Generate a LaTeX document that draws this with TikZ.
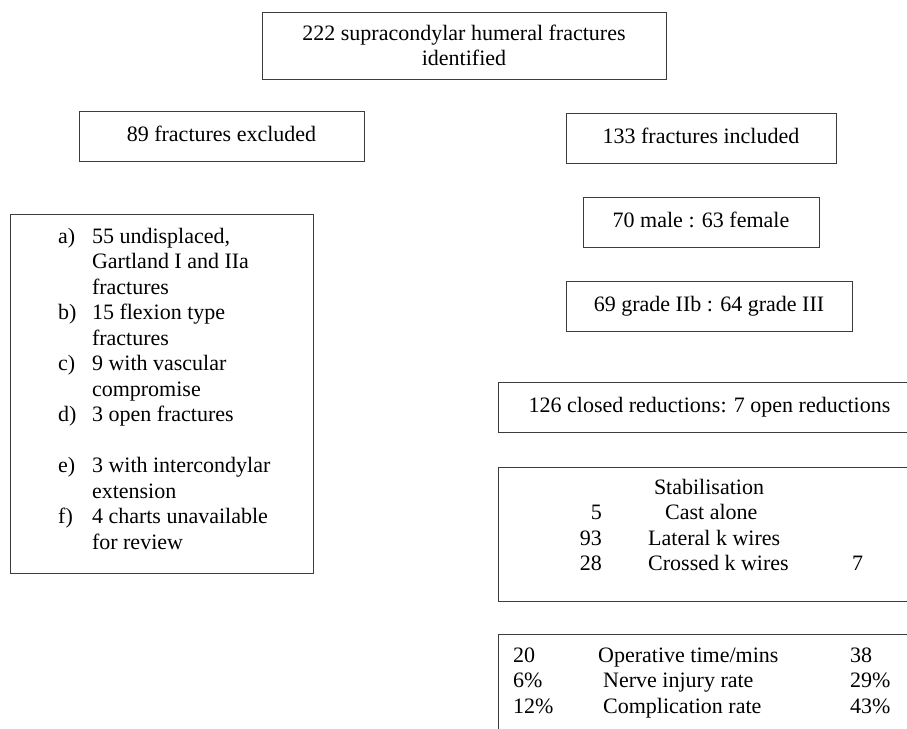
\documentclass[tikz,border=0pt]{standalone}
\usepackage{fontspec}
\setmainfont{Liberation Serif}
\usepackage{xcolor}
\usepackage{tikz}
\definecolor{boxline}{RGB}{60, 60, 60}
\usetikzlibrary{positioning}

\tikzset{
    box/.style={draw=boxline, line width=1pt, inner sep=0pt},
    boxtext/.style={box, align=center, text height=15pt, text depth=5pt},
    celltext/.style={inner sep=0pt},
}

\begin{document}
\begin{tikzpicture}[x=1pt, y=-1pt, every node/.style={font=\fontsize{22}{25.5}\selectfont}]
        \useasboundingbox (0,0) rectangle (907,728);
        \clip (0,0) rectangle (907,728);

        % flow of fractures
        \node[box, align=center, minimum width=404pt, minimum height=67pt] (identified) at (464,45.5) {
            222 supracondylar humeral fractures\\identified
        };
        \node[boxtext, minimum width=285pt, minimum height=50pt] (excluded) at (221.5,136) {89 fractures excluded};
        \node[boxtext, minimum width=270pt, minimum height=50pt] (included) at (701,138) {133 fractures included};
        \node[boxtext, minimum width=236pt, minimum height=50pt] (sex) at (701,222) {70 male : 63 female};
        \node[boxtext, minimum width=286pt, minimum height=50pt] (grade) at (709,306) {69 grade IIb : 64 grade III};
        \node[boxtext, minimum width=423pt, minimum height=50pt] (reduction) at (709.5,407) {126 closed reductions: 7 open reductions};

        % reasons for exclusion
        \node[box, minimum width=303pt, minimum height=359pt] (reasons) at (161.5,393.5) {};
        \node[celltext, anchor=base west] (reasonlist) at (58,243) {%
            \begin{tabular}[t]{@{}l@{\hspace{15.5pt}}l@{}}
            a) & 55 undisplaced,\\
               & Gartland I and IIa\\
               & fractures\\
            b) & 15 flexion type\\
               & fractures\\
            c) & 9 with vascular\\
               & compromise\\
            d) & 3 open fractures\\
               & \\
            e) & 3 with intercondylar\\
               & extension\\
            f) & 4 charts unavailable\\
               & for review
            \end{tabular}};

        % stabilisation
        \node[box, minimum width=423pt, minimum height=134pt] (stabil) at (709.5,534) {};
        \node[celltext, anchor=base] (stabtitle) at (709,494) {Stabilisation};
        \node[celltext, anchor=base east] (castnum) at (602,519.5) {5};
        \node[celltext, anchor=base west] (cast) at (665,519.5) {Cast alone};
        \node[celltext, anchor=base east] (latnum) at (602,545) {93};
        \node[celltext, anchor=base west] (lat) at (648,545) {Lateral k wires};
        \node[celltext, anchor=base east] (crossnum) at (602,570.5) {28};
        \node[celltext, anchor=base west] (cross) at (648,570.5) {Crossed k wires};
        \node[celltext, anchor=base west] (crossopen) at (852,570.5) {7};

        % outcomes
        \node[box, minimum width=423pt, minimum height=134pt] (outcome) at (709.5,701) {};
        \node[celltext, anchor=base west] (optimeA) at (513,662) {20};
        \node[celltext, anchor=base west] (optime) at (598,662) {Operative time/mins};
        \node[celltext, anchor=base west] (optimeB) at (850,662) {38};
        \node[celltext, anchor=base west] (nerveA) at (513,687.5) {6\%};
        \node[celltext, anchor=base west] (nerve) at (603,687.5) {Nerve injury rate};
        \node[celltext, anchor=base west] (nerveB) at (850,687.5) {29\%};
        \node[celltext, anchor=base west] (complA) at (513,713) {12\%};
        \node[celltext, anchor=base west] (compl) at (603,713) {Complication rate};
        \node[celltext, anchor=base west] (complB) at (850,713) {43\%};
    \end{tikzpicture}
\end{document}
